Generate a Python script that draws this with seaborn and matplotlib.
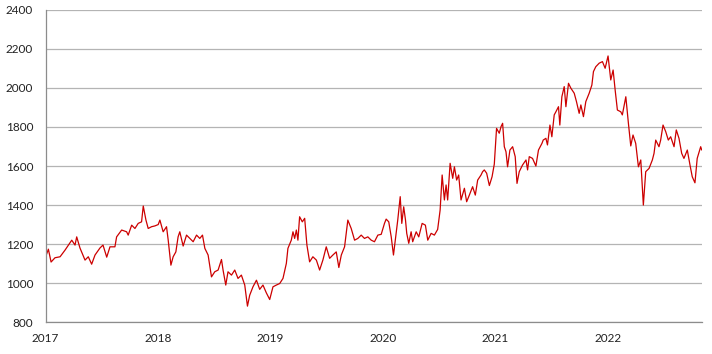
import matplotlib
matplotlib.use("Agg")
import matplotlib.pyplot as plt
import pandas as pd
import seaborn as sns

# time as decimal years
years = [
    2017.004, 2017.025, 2017.049, 2017.084, 2017.129, 2017.173, 2017.233, 2017.262, 2017.277, 2017.306,
    2017.351, 2017.380, 2017.410, 2017.440, 2017.484, 2017.511, 2017.544, 2017.573, 2017.617, 2017.632,
    2017.677, 2017.721, 2017.735, 2017.766, 2017.795, 2017.824, 2017.854, 2017.869, 2017.893, 2017.913,
    2017.943, 2017.972, 2018.002, 2018.017, 2018.046, 2018.076, 2018.091, 2018.115, 2018.135, 2018.159,
    2018.179, 2018.194, 2018.224, 2018.254, 2018.283, 2018.313, 2018.343, 2018.372, 2018.396, 2018.417,
    2018.446, 2018.476, 2018.505, 2018.535, 2018.565, 2018.579, 2018.603, 2018.623, 2018.654, 2018.683,
    2018.712, 2018.742, 2018.772, 2018.796, 2018.816, 2018.845, 2018.876, 2018.905, 2018.934, 2018.964,
    2018.994, 2019.023, 2019.053, 2019.083, 2019.112, 2019.142, 2019.156, 2019.186, 2019.201, 2019.216,
    2019.231, 2019.245, 2019.260, 2019.284, 2019.305, 2019.325, 2019.349, 2019.378, 2019.409, 2019.438,
    2019.467, 2019.497, 2019.527, 2019.556, 2019.586, 2019.609, 2019.631, 2019.660, 2019.689, 2019.719,
    2019.749, 2019.778, 2019.808, 2019.837, 2019.867, 2019.897, 2019.926, 2019.956, 2019.986, 2020.015,
    2020.030, 2020.053, 2020.075, 2020.095, 2020.119, 2020.133, 2020.155, 2020.169, 2020.186, 2020.202,
    2020.213, 2020.231, 2020.252, 2020.266, 2020.297, 2020.320, 2020.350, 2020.379, 2020.400, 2020.430,
    2020.459, 2020.488, 2020.510, 2020.528, 2020.548, 2020.563, 2020.577, 2020.599, 2020.622, 2020.637,
    2020.657, 2020.675, 2020.696, 2020.726, 2020.746, 2020.770, 2020.799, 2020.823, 2020.844, 2020.874,
    2020.888, 2020.903, 2020.924, 2020.948, 2020.972, 2020.992, 2021.012, 2021.036, 2021.052, 2021.066,
    2021.081, 2021.096, 2021.110, 2021.131, 2021.155, 2021.178, 2021.194, 2021.214, 2021.243, 2021.274,
    2021.288, 2021.303, 2021.332, 2021.362, 2021.385, 2021.416, 2021.427, 2021.451, 2021.465, 2021.487,
    2021.504, 2021.525, 2021.540, 2021.563, 2021.575, 2021.593, 2021.614, 2021.629, 2021.652, 2021.673,
    2021.703, 2021.723, 2021.747, 2021.762, 2021.785, 2021.806, 2021.836, 2021.860, 2021.874, 2021.895,
    2021.925, 2021.954, 2021.978, 2022.004, 2022.028, 2022.049, 2022.067, 2022.087, 2022.117, 2022.131,
    2022.162, 2022.185, 2022.206, 2022.226, 2022.250, 2022.274, 2022.295, 2022.318, 2022.339, 2022.369,
    2022.398, 2022.413, 2022.428, 2022.457, 2022.472, 2022.493, 2022.517, 2022.540, 2022.561, 2022.591,
    2022.611, 2022.635, 2022.659, 2022.679, 2022.709, 2022.733, 2022.753, 2022.777, 2022.797, 2022.828,
    2022.837,
]
prices = [
    1140, 1174, 1108, 1130, 1135, 1169, 1220, 1195, 1237, 1180,
    1118, 1135, 1097, 1144, 1180, 1195, 1133, 1186, 1186, 1237,
    1272, 1263, 1246, 1297, 1280, 1306, 1314, 1395, 1323, 1280,
    1289, 1293, 1300, 1323, 1263, 1289, 1220, 1092, 1135, 1160,
    1237, 1263, 1190, 1246, 1229, 1212, 1246, 1229, 1246, 1178,
    1144, 1032, 1058, 1067, 1121, 1067, 990, 1058, 1041, 1067,
    1024, 1041, 990, 882, 938, 981, 1015, 968, 990, 950,
    916, 981, 990, 998, 1024, 1101, 1178, 1220, 1263, 1229,
    1272, 1220, 1340, 1314, 1332, 1195, 1109, 1135, 1118, 1067,
    1118, 1186, 1127, 1144, 1160, 1080, 1144, 1186, 1323, 1280,
    1220, 1229, 1246, 1229, 1237, 1220, 1212, 1246, 1250, 1306,
    1328, 1314, 1237, 1144, 1255, 1323, 1443, 1306, 1391, 1323,
    1255, 1204, 1263, 1212, 1263, 1237, 1306, 1297, 1220, 1255,
    1246, 1275, 1374, 1554, 1426, 1503, 1426, 1614, 1537, 1596,
    1528, 1554, 1426, 1486, 1417, 1451, 1494, 1451, 1528, 1554,
    1571, 1580, 1563, 1500, 1545, 1610, 1793, 1768, 1802, 1819,
    1699, 1673, 1596, 1682, 1699, 1648, 1511, 1571, 1605, 1631,
    1580, 1648, 1639, 1600, 1682, 1716, 1733, 1742, 1708, 1810,
    1750, 1862, 1878, 1904, 1810, 1955, 2007, 1904, 2024, 1999,
    1973, 1930, 1870, 1913, 1853, 1930, 1973, 2015, 2084, 2109,
    2127, 2135, 2101, 2164, 2041, 2092, 1990, 1887, 1878, 1862,
    1955, 1819, 1703, 1759, 1716, 1596, 1631, 1400, 1571, 1588,
    1631, 1665, 1733, 1699, 1733, 1810, 1776, 1733, 1750, 1699,
    1785, 1742, 1665, 1639, 1682, 1605, 1545, 1514, 1639, 1699,
    1682,
]
year_ticks = [2017, 2018, 2019, 2020, 2021, 2022]
value_ticks = [800, 1000, 1200, 1400, 1600, 1800, 2000, 2200, 2400]

df = pd.DataFrame({"year": years, "price": prices})

sns.set_style("white")
plt.rcParams["font.family"] = ["Lato", "DejaVu Sans"]

fig = plt.figure(figsize=(7.12, 3.54), dpi=100)
ax = fig.add_axes([0.064, 0.090, 0.922, 0.882])

sns.lineplot(data=df, x="year", y="price", color="#cc0000", linewidth=0.9, ax=ax)

ax.set_xlim(2017, 2022.84)
ax.set_ylim(800, 2400)
ax.set_xticks(year_ticks)
ax.set_xticklabels([str(y) for y in year_ticks])
ax.set_yticks(value_ticks)
ax.set_yticklabels([str(v) for v in value_ticks])
ax.set_xlabel("")
ax.set_ylabel("")

ax.grid(True, axis="y", color="#b4b4b4", linewidth=0.9)
ax.set_axisbelow(True)
for side in ["top", "right"]:
    ax.spines[side].set_visible(False)
for side in ["left", "bottom"]:
    ax.spines[side].set_color("#8c8c8c")
    ax.spines[side].set_linewidth(0.9)
ax.tick_params(axis="both", which="major", direction="out", length=4, width=0.9,
               color="#8c8c8c", labelsize=8.5, labelcolor="#222222", pad=3)
ax.tick_params(axis="x", pad=4)
ax.tick_params(axis="y", pad=5)

fig.savefig("out.png", dpi=100)
